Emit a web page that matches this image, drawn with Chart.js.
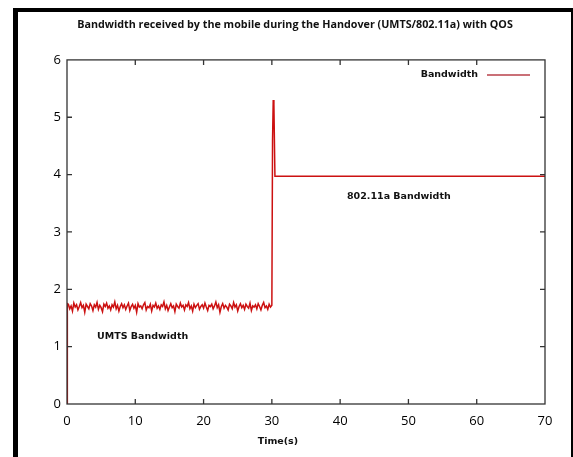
<!DOCTYPE html>
<html>
<head>
<meta charset="utf-8">
<script src="https://cdn.jsdelivr.net/npm/chart.js@4/dist/chart.umd.min.js"></script>
<style>
html,body{margin:0;padding:0;background:#fff;}
#wrap{position:relative;width:573px;height:457px;overflow:hidden;background:#fff;}
canvas{position:absolute;left:0;top:0;}
.bar{position:absolute;background:#000;}
</style>
</head>
<body>
<div id="wrap">
<canvas id="c" width="573" height="457"></canvas>
<div class="bar" style="left:13px;top:8px;width:560px;height:4px;"></div>
<div class="bar" style="left:13px;top:8px;width:5px;height:449px;"></div>
<div class="bar" style="left:571px;top:8px;width:2px;height:449px;"></div>
</div>
<script>
const chartTitle = 'Bandwidth received by the mobile during the Handover (UMTS/802.11a) with QOS';
const xAxisTitle = 'Time(s)';
const seriesLabel = 'Bandwidth';
const xTicks = [0, 10, 20, 30, 40, 50, 60, 70];
const yTicks = [0, 1, 2, 3, 4, 5, 6];
const annotations = [
  { text: 'UMTS Bandwidth', x: 4.4, y: 1.17 },
  { text: '802.11a Bandwidth', x: 41.0, y: 3.61 }
];
const timeStart = [0, 0.05];
const bwStart = [0, 1.75];
const timeUmts = [
  0.2,0.4,0.6,0.8,1,1.2,1.4,1.6,1.8,2,
  2.2,2.4,2.6,2.8,3,3.2,3.4,3.6,3.8,4,
  4.2,4.4,4.6,4.8,5,5.2,5.4,5.6,5.8,6,
  6.2,6.4,6.6,6.8,7,7.2,7.4,7.6,7.8,8,
  8.2,8.4,8.6,8.8,9,9.2,9.4,9.6,9.8,10,
  10.2,10.4,10.6,10.8,11,11.2,11.4,11.6,11.8,12,
  12.2,12.4,12.6,12.8,13,13.2,13.4,13.6,13.8,14,
  14.2,14.4,14.6,14.8,15,15.2,15.4,15.6,15.8,16,
  16.2,16.4,16.6,16.8,17,17.2,17.4,17.6,17.8,18,
  18.2,18.4,18.6,18.8,19,19.2,19.4,19.6,19.8,20,
  20.2,20.4,20.6,20.8,21,21.2,21.4,21.6,21.8,22,
  22.2,22.4,22.6,22.8,23,23.2,23.4,23.6,23.8,24,
  24.2,24.4,24.6,24.8,25,25.2,25.4,25.6,25.8,26,
  26.2,26.4,26.6,26.8,27,27.2,27.4,27.6,27.8,28,
  28.2,28.4,28.6,28.8,29,29.2,29.4,29.6,29.8
];
const bwUmts = [
  1.74,1.66,1.71,1.62,1.76,1.69,1.73,1.64,1.70,1.77,
  1.68,1.72,1.60,1.74,1.70,1.66,1.75,1.71,1.63,1.73,
  1.69,1.77,1.65,1.72,1.68,1.61,1.74,1.70,1.76,1.67,
  1.71,1.64,1.73,1.69,1.78,1.66,1.72,1.62,1.70,1.75,
  1.68,1.73,1.65,1.71,1.76,1.63,1.70,1.74,1.67,1.72,
  1.60,1.75,1.69,1.71,1.66,1.73,1.77,1.64,1.70,1.68,
  1.74,1.62,1.72,1.69,1.76,1.67,1.71,1.65,1.73,1.70,
  1.78,1.66,1.72,1.63,1.69,1.75,1.68,1.71,1.61,1.74,
  1.70,1.67,1.76,1.69,1.72,1.64,1.73,1.70,1.77,1.66,
  1.71,1.62,1.74,1.68,1.72,1.75,1.65,1.70,1.73,1.67,
  1.76,1.69,1.63,1.72,1.70,1.74,1.66,1.71,1.78,1.68,
  1.73,1.60,1.70,1.75,1.67,1.72,1.69,1.64,1.74,1.71,
  1.66,1.77,1.69,1.73,1.62,1.70,1.75,1.68,1.72,1.65,
  1.74,1.70,1.67,1.76,1.63,1.71,1.69,1.73,1.66,1.75,
  1.70,1.64,1.72,1.77,1.68,1.71,1.65,1.74,1.69
];
const timeHandover = [30, 30.1, 30.2, 30.3, 30.45, 70];
const bwHandover = [1.72, 4.6, 5.3, 5.22, 3.97, 3.97];

const times = timeStart.concat(timeUmts, timeHandover);
const bandwidth = bwStart.concat(bwUmts, bwHandover);
const points = times.map((t, i) => ({ x: t, y: bandwidth[i] }));

const tickFont = { family: "'Open Sans', 'DejaVu Sans', sans-serif", size: 13 };
const lineColor = '#cc1111';

const framePlugin = {
  id: 'frame',
  afterDatasetsDraw(chart) {
    const { ctx, chartArea: a, scales } = chart;
    ctx.save();
    ctx.strokeStyle = '#333';
    ctx.lineWidth = 1.3;
    ctx.strokeRect(a.left, a.top, a.right - a.left, a.bottom - a.top);
    const tl = 5;
    ctx.beginPath();
    xTicks.forEach(v => {
      if (v === xTicks[0] || v === xTicks[xTicks.length - 1]) return;
      const px = scales.x.getPixelForValue(v);
      ctx.moveTo(px, a.bottom); ctx.lineTo(px, a.bottom - tl);
      ctx.moveTo(px, a.top); ctx.lineTo(px, a.top + tl);
    });
    yTicks.forEach(v => {
      if (v === yTicks[0] || v === yTicks[yTicks.length - 1]) return;
      const py = scales.y.getPixelForValue(v);
      ctx.moveTo(a.left, py); ctx.lineTo(a.left + tl, py);
      ctx.moveTo(a.right, py); ctx.lineTo(a.right - tl, py);
    });
    ctx.stroke();
    ctx.fillStyle = '#111';
    ctx.font = "bold 9.5px 'DejaVu Sans', sans-serif";
    ctx.textAlign = 'left';
    ctx.textBaseline = 'middle';
    annotations.forEach(an => {
      ctx.fillText(an.text, scales.x.getPixelForValue(an.x), scales.y.getPixelForValue(an.y));
    });
    // x axis title (offset left of centre as in the original)
    ctx.textAlign = 'center';
    ctx.fillText(xAxisTitle, scales.x.getPixelForValue(30) + 6, 442);
    // legend
    const ly = a.top + 15;
    ctx.textAlign = 'right';
    ctx.fillText(chart.data.datasets[0].label, a.right - 67, ly);
    ctx.strokeStyle = '#b8404a';
    ctx.lineWidth = 1.5;
    ctx.beginPath();
    ctx.moveTo(a.right - 58, ly); ctx.lineTo(a.right - 15, ly);
    ctx.stroke();
    ctx.restore();
  }
};

new Chart(document.getElementById('c'), {
  type: 'line',
  data: {
    datasets: [{
      label: seriesLabel,
      data: points,
      borderColor: lineColor,
      backgroundColor: lineColor,
      borderWidth: 1.5,
      pointRadius: 0,
      tension: 0,
      fill: false
    }]
  },
  options: {
    responsive: false,
    animation: false,
    devicePixelRatio: 1,
    layout: { padding: { top: 0, right: 28, bottom: 0, left: 45 } },
    plugins: {
      legend: { display: false },
      tooltip: { enabled: false },
      title: {
        display: true,
        text: chartTitle,
        color: '#111',
        font: { family: "'Open Sans', sans-serif", size: 10.75, weight: 'bold' },
        padding: { top: 18, bottom: 29 }
      }
    },
    scales: {
      x: {
        type: 'linear',
        min: 0, max: 70,
        afterBuildTicks: s => { s.ticks = xTicks.map(v => ({ value: v })); },
        afterFit: s => { s.height = 53; },
        grid: { display: false, drawTicks: false },
        border: { display: false },
        ticks: { color: '#000', font: tickFont, padding: 9, maxRotation: 0 }
      },
      y: {
        type: 'linear',
        min: 0, max: 6,
        afterBuildTicks: s => { s.ticks = yTicks.map(v => ({ value: v })); },
        afterFit: s => { s.width = 22; },
        grid: { display: false, drawTicks: false },
        border: { display: false },
        ticks: { color: '#000', font: tickFont, padding: 6 }
      }
    }
  },
  plugins: [framePlugin]
});
</script>
</body>
</html>
